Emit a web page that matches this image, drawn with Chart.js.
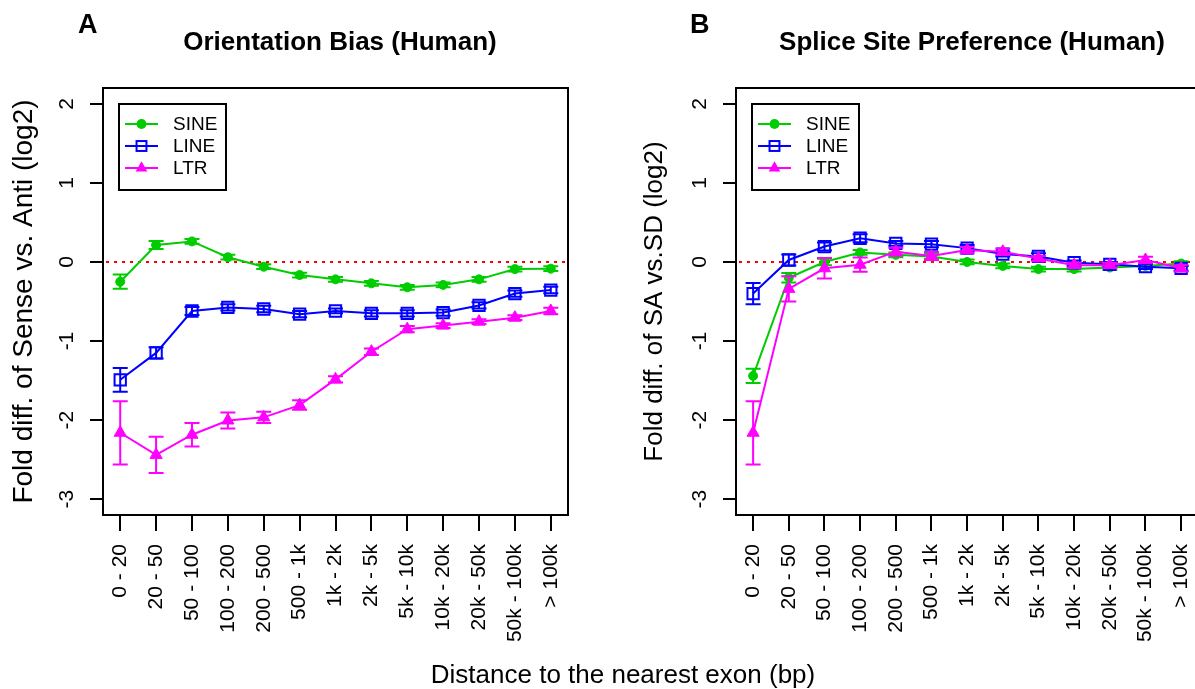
<!DOCTYPE html>
<html><head><meta charset="utf-8">
<script src="https://cdn.jsdelivr.net/npm/chart.js@4"></script>
<style>
html,body{margin:0;padding:0;background:#fff;overflow:hidden;}
#wrap{position:relative;width:1195px;height:689px;overflow:hidden;background:#fff;font-family:"Liberation Sans",Arial,Helvetica,sans-serif;}
canvas{position:absolute;top:0;}
.t{position:absolute;white-space:nowrap;color:#000;line-height:1;}
.c{transform:translateX(-50%);}
</style></head><body>
<div id="wrap">
<canvas id="cA" width="600" height="689" style="left:0;width:600px;height:689px"></canvas>
<canvas id="cB" width="620" height="689" style="left:600px;width:620px;height:689px"></canvas>
<div class="t" id="letterA" style="left:78px;top:11px;font-weight:bold;font-size:27px"></div>
<div class="t c" id="titleA" style="left:340px;top:28px;font-weight:bold;font-size:26px"></div>
<div class="t" id="letterB" style="left:690px;top:11px;font-weight:bold;font-size:27px"></div>
<div class="t c" id="titleB" style="left:972px;top:28px;font-weight:bold;font-size:26px"></div>
<div class="t c" id="xTitle" style="left:623px;top:661px;font-size:26px"></div>
</div>
<script>
// ---------- data ----------
const categories = ["0 - 20","20 - 50","50 - 100","100 - 200","200 - 500","500 - 1k","1k - 2k","2k - 5k","5k - 10k","10k - 20k","20k - 50k","50k - 100k","> 100k"];
const yTickValues = [-3, -2, -1, 0, 1, 2];
const seriesNames = ["SINE", "LINE", "LTR"];

const panelLetters = ["A", "B"];
const panelTitles = ["Orientation Bias (Human)", "Splice Site Preference (Human)"];
const yTitles = ["Fold diff. of Sense vs. Anti (log2)", "Fold diff. of SA vs.SD (log2)"];
const xTitle = "Distance to the nearest exon (bp)";

// Panel A: orientation bias
const sineA    = [-0.25, 0.215, 0.26, 0.06, -0.06, -0.165, -0.22, -0.27, -0.32, -0.29, -0.22, -0.09, -0.085];
const sineAErr = [0.09, 0.05, 0.03, 0.03, 0.03, 0.03, 0.03, 0.03, 0.03, 0.03, 0.03, 0.03, 0.03];
const lineA    = [-1.49, -1.15, -0.62, -0.575, -0.595, -0.66, -0.62, -0.65, -0.65, -0.64, -0.55, -0.40, -0.355];
const lineAErr = [0.15, 0.07, 0.05, 0.04, 0.04, 0.04, 0.03, 0.04, 0.04, 0.04, 0.04, 0.04, 0.04];
const ltrA     = [-2.16, -2.44, -2.185, -2.005, -1.965, -1.81, -1.485, -1.135, -0.85, -0.805, -0.755, -0.705, -0.62];
const ltrAErr  = [0.40, 0.23, 0.15, 0.10, 0.07, 0.06, 0.04, 0.04, 0.04, 0.03, 0.03, 0.03, 0.04];

// Panel B: splice site preference
const sineB    = [-1.44, -0.20, 0.0, 0.12, 0.09, 0.07, 0.0, -0.05, -0.09, -0.09, -0.07, -0.05, -0.02];
const sineBErr = [0.09, 0.06, 0.04, 0.03, 0.03, 0.03, 0.03, 0.03, 0.03, 0.03, 0.03, 0.03, 0.03];
const lineB    = [-0.40, 0.025, 0.195, 0.30, 0.235, 0.225, 0.175, 0.10, 0.07, -0.01, -0.03, -0.06, -0.08];
const lineBErr = [0.135, 0.07, 0.05, 0.05, 0.03, 0.04, 0.04, 0.03, 0.04, 0.03, 0.03, 0.03, 0.03];
const ltrB     = [-2.16, -0.34, -0.08, -0.035, 0.13, 0.075, 0.15, 0.13, 0.045, -0.04, -0.04, 0.025, -0.08];
const ltrBErr  = [0.40, 0.16, 0.13, 0.09, 0.05, 0.05, 0.04, 0.04, 0.03, 0.03, 0.03, 0.04, 0.04];

// ---------- styling ----------
const FONT = "'Liberation Sans', Arial, Helvetica, sans-serif";
const COLORS = ["#00cd00", "#0000ff", "#ff00ff"];
const STYLES = [
  {pointStyle: "circle", pointRadius: 4.5, fill: true, order: 2},
  {pointStyle: "rect", pointRadius: 8, fill: false, order: 1},
  {pointStyle: "triangle", pointRadius: 7, fill: true, order: 0}
];

document.getElementById("letterA").textContent = panelLetters[0];
document.getElementById("letterB").textContent = panelLetters[1];
document.getElementById("titleA").textContent = panelTitles[0];
document.getElementById("titleB").textContent = panelTitles[1];
document.getElementById("xTitle").textContent = xTitle;

function makeDatasets(values, errors) {
  return values.map((arr, k) => ({
    label: seriesNames[k],
    data: arr.map((v, i) => ({x: i + 1, y: v})),
    errors: errors[k],
    borderColor: COLORS[k],
    backgroundColor: COLORS[k],
    borderWidth: 2,
    pointStyle: STYLES[k].pointStyle,
    pointRadius: STYLES[k].pointRadius,
    pointHoverRadius: STYLES[k].pointRadius,
    pointBorderColor: COLORS[k],
    pointBackgroundColor: STYLES[k].fill ? COLORS[k] : "rgba(0,0,0,0)",
    pointBorderWidth: STYLES[k].fill ? 1 : 2,
    order: STYLES[k].order,
    tension: 0,
    fill: false
  }));
}

function drawMarker(ctx, style, x, y, color, size) {
  ctx.save();
  ctx.strokeStyle = color; ctx.fillStyle = color; ctx.lineWidth = 2;
  ctx.beginPath();
  if (style === "circle") {
    ctx.arc(x, y, size * 0.55, 0, Math.PI * 2); ctx.fill();
  } else if (style === "rect") {
    const h = size * 0.55;
    ctx.strokeRect(x - h, y - h, 2 * h, 2 * h);
  } else {
    const r = size * 0.75;
    ctx.moveTo(x, y - r);
    ctx.lineTo(x + r * Math.sin(Math.PI / 3), y + r / 2);
    ctx.lineTo(x - r * Math.sin(Math.PI / 3), y + r / 2);
    ctx.closePath(); ctx.fill();
  }
  ctx.restore();
}

const panelPlugin = {
  id: "panelDecor",
  beforeDatasetsDraw(chart) {
    const {ctx, chartArea: a, scales: {y}} = chart;
    const y0 = y.getPixelForValue(0);
    ctx.save();
    ctx.strokeStyle = "#ff0000"; ctx.lineWidth = 2; ctx.setLineDash([3, 5]);
    ctx.beginPath(); ctx.moveTo(a.left + 3, y0); ctx.lineTo(a.right, y0); ctx.stroke();
    ctx.restore();
  },
  afterDatasetDraw(chart, args) {
    const ds = chart.data.datasets[args.index];
    const {ctx, scales: {x, y}} = chart;
    ctx.save();
    ctx.strokeStyle = ds.borderColor; ctx.lineWidth = 2;
    ds.data.forEach((p, i) => {
      const e = ds.errors[i];
      const px = x.getPixelForValue(p.x);
      const yt = y.getPixelForValue(p.y + e), yb = y.getPixelForValue(p.y - e);
      ctx.beginPath();
      ctx.moveTo(px, yt); ctx.lineTo(px, yb);
      ctx.moveTo(px - 7.5, yt); ctx.lineTo(px + 7.5, yt);
      ctx.moveTo(px - 7.5, yb); ctx.lineTo(px + 7.5, yb);
      ctx.stroke();
    });
    ctx.restore();
  },
  afterDraw(chart) {
    const {ctx, chartArea: a} = chart;
    ctx.save();
    ctx.strokeStyle = "#000"; ctx.lineWidth = 2;
    ctx.strokeRect(a.left, a.top, a.right - a.left, a.bottom - a.top);
    const lx = a.left + 16, ly = a.top + 16, lw = 107, lh = 86;
    ctx.fillStyle = "#fff"; ctx.fillRect(lx, ly, lw, lh);
    ctx.strokeStyle = "#000"; ctx.strokeRect(lx, ly, lw, lh);
    chart.data.datasets.forEach((ds, i) => {
      const yy = ly + 20 + 22 * i;
      ctx.strokeStyle = ds.borderColor; ctx.lineWidth = 2;
      ctx.beginPath(); ctx.moveTo(lx + 6, yy); ctx.lineTo(lx + 39, yy); ctx.stroke();
      drawMarker(ctx, ds.pointStyle, lx + 22.5, yy, ds.borderColor, 9);
      ctx.fillStyle = "#000"; ctx.font = "19px " + FONT;
      ctx.textBaseline = "middle"; ctx.textAlign = "left";
      ctx.fillText(ds.label, lx + 54, yy + 1);
    });
    ctx.restore();
  }
};

function makeOptions(yTitle, yTitleSize, padLeft, yWidth, padRight) {
  return {
    responsive: false, animation: false, devicePixelRatio: 1,
    layout: {padding: {left: padLeft, right: padRight, top: 88, bottom: 0}},
    plugins: {legend: {display: false}, tooltip: {enabled: false}, title: {display: false}},
    scales: {
      x: {
        type: "linear", min: 0.52, max: 13.48,
        afterBuildTicks: s => { s.ticks = categories.map((c, i) => ({value: i + 1})); },
        afterFit: s => { s.height = 689 - 515; },
        grid: {drawOnChartArea: false, drawTicks: true, tickLength: 16, color: "#000", lineWidth: 2},
        border: {display: false},
        ticks: {autoSkip: false, minRotation: 90, maxRotation: 90, padding: 13, color: "#000",
                font: {family: FONT, size: 21}, callback: v => categories[Math.round(v) - 1]}
      },
      y: {
        type: "linear", min: -3.2, max: 2.2,
        afterBuildTicks: s => { s.ticks = yTickValues.map(v => ({value: v})); },
        afterFit: s => { s.width = yWidth; },
        grid: {drawOnChartArea: false, drawTicks: true, tickLength: 13, color: "#000", lineWidth: 2},
        border: {display: false},
        ticks: {minRotation: 90, maxRotation: 90, crossAlign: "center", padding: 13, color: "#000",
                font: {family: FONT, size: 21}, callback: v => String(v)},
        title: {display: true, text: yTitle, color: "#000", font: {family: FONT, size: yTitleSize},
                padding: {top: 7, bottom: 0}}
      }
    }
  };
}

new Chart(document.getElementById("cA"), {
  type: "line",
  data: {datasets: makeDatasets([sineA, lineA, ltrA], [sineAErr, lineAErr, ltrAErr])},
  options: makeOptions(yTitles[0], 28, 0, 103, 32),
  plugins: [panelPlugin]
});

new Chart(document.getElementById("cB"), {
  type: "line",
  data: {datasets: makeDatasets([sineB, lineB, ltrB], [sineBErr, lineBErr, ltrBErr])},
  options: makeOptions(yTitles[1], 26, 32, 104, 18),
  plugins: [panelPlugin]
});
</script>
</body></html>
